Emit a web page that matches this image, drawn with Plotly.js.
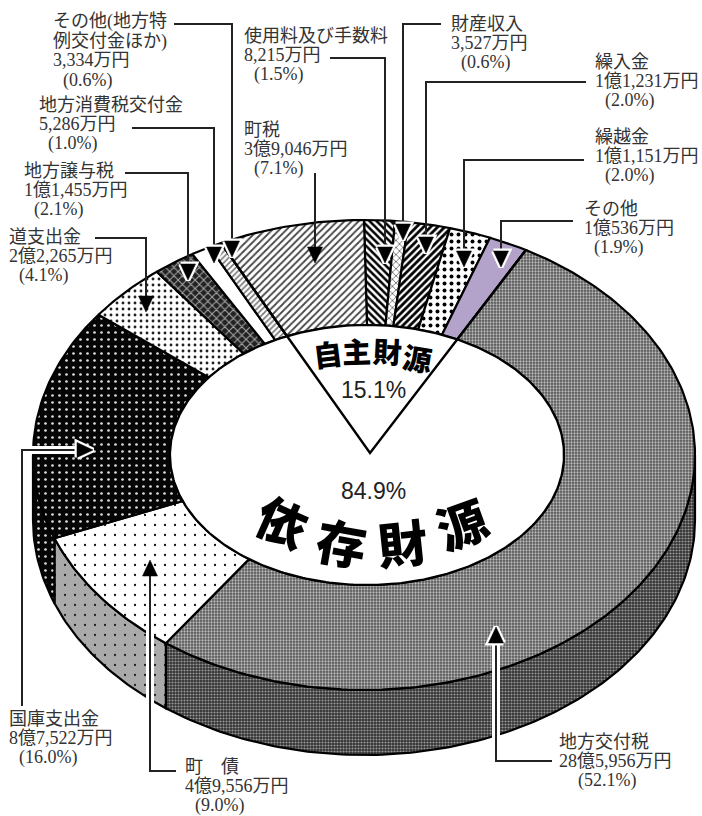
<!DOCTYPE html>
<html><head><meta charset="utf-8">
<script src="https://cdn.plot.ly/plotly-3.0.1.min.js"></script>
<style>html,body{margin:0;padding:0;background:#fff}</style>
</head><body><div id="chart" style="width:702px;height:816px"></div>
<script>
// ---- data (万円), clockwise from 12 o'clock ----
const categories = ['使用料及び手数料','財産収入','繰入金','繰越金','その他','地方交付税','町債','国庫支出金','道支出金','地方譲与税','地方消費税交付金','その他(地方特例交付金ほか)','町税'];
const values = [8215,3527,11231,11151,10536,285956,49556,87522,22265,11455,5286,3334,39046];
const amountLabels = ['8,215万円','3,527万円','1億1,231万円','1億1,151万円','1億536万円','28億5,956万円','4億9,556万円','8億7,522万円','2億2,265万円','1億1,455万円','5,286万円','3,334万円','3億9,046万円'];
const percentLabels = ['(1.5%)','(0.6%)','(2.0%)','(2.0%)','(1.9%)','(52.1%)','(9.0%)','(16.0%)','(4.1%)','(2.1%)','(1.0%)','(0.6%)','(7.1%)'];
const nameLines = [['使用料及び手数料'],['財産収入'],['繰入金'],['繰越金'],['その他'],['地方交付税'],['町\u3000債'],['国庫支出金'],['道支出金'],['地方譲与税'],['地方消費税交付金'],['その他(地方特','例交付金ほか)'],['町税']];
const ownShare = '15.1%', depShare = '84.9%';

// ---- presentation ----
const outer = {cx:364, cy:455, a:331, b:235}, hole = {cx:367, cy:455, a:197, b:130}, depth = 65;
const apex = [370,453];
const labelX = [[243,253],[450,460],[594,604],[594,604],[583,593],[558,577],[184,194],[8,18],[8,18],[23,33],[38,47],[52,62],[243,253]];
const labelY = [36,24,62,137,209,742,767,719,237,171,105,21.8,130];
const lineH = 18.7, pctShift = 1.2, twoLineGap = 1.2;
const pats = [
 {shape:'\\',bgcolor:'#fff',fgcolor:'#000',size:5,solidity:.5},
 {shape:'x',bgcolor:'#fff',fgcolor:'#444',size:5,solidity:.25},
 {shape:'/',bgcolor:'#fff',fgcolor:'#000',size:5,solidity:.55},
 {shape:'.',bgcolor:'#fff',fgcolor:'#000',size:7,solidity:.25},
 null,
 {shape:'.',bgcolor:'#555',fgcolor:'#bbb',size:3,solidity:.45},
 {shape:'.',bgcolor:'#fff',fgcolor:'#111',size:10,solidity:.04},
 {shape:'.',bgcolor:'#050505',fgcolor:'#ddd',size:7,solidity:.12},
 {shape:'.',bgcolor:'#fff',fgcolor:'#222',size:6,solidity:.18},
 {shape:'x',bgcolor:'#222',fgcolor:'#aaa',size:6,solidity:.3},
 {shape:'',bgcolor:'#fff',fgcolor:'#fff',size:6,solidity:.1},
 {shape:'/',bgcolor:'#fff',fgcolor:'#777',size:4,solidity:.4},
 {shape:'/',bgcolor:'#fff',fgcolor:'#444',size:5,solidity:.35}
];
const wallPats = {5:{shape:'.',bgcolor:'#333',fgcolor:'#999',size:3,solidity:.4},
                  6:{shape:'.',bgcolor:'#aaa',fgcolor:'#222',size:10,solidity:.04},
                  7:{shape:'.',bgcolor:'#050505',fgcolor:'#ddd',size:7,solidity:.12}};
const solidFill = '#b3a2c9';
// leader polylines: text end -> elbow -> arrow tip; halo = white-outlined
const leaders = [
 {p:[[330,58],[385,58],[385,263]],halo:true,shaft:false},
 {p:[[441,24],[403,24],[403,240]],halo:true,shaft:false},
 {p:[[586,82],[426,82],[426,253]],halo:true,shaft:false},
 {p:[[584,160],[464,160],[464,267]],halo:true,shaft:false},
 {p:[[573,221],[501,221],[501,267]],halo:true,shaft:false},
 {p:[[552,761],[496,761],[496,627]],halo:true,shaft:true},
 {p:[[176,771],[150,771],[150,560]],halo:false,shaft:true},
 {p:[[22,706],[22,450],[93,450]],halo:true,shaft:true},
 {p:[[95,238],[146,238],[146,312]],halo:false,shaft:false},
 {p:[[125,173],[188,173],[188,280]],halo:true,shaft:false},
 {p:[[132,128],[214,128],[214,263]],halo:true,shaft:false},
 {p:[[174,24],[232,24],[232,257]],halo:true,shaft:false},
 {p:[[315,173],[315,263]],halo:false,shaft:false}
];
const headLen = 16, headHalf = 7.5;
const bigText = [
 {t:'自',x:327,y:353,r:-7,s:29},{t:'主',x:356,y:350,r:-2,s:29},{t:'財',x:387,y:350,r:3,s:29},{t:'源',x:417,y:357,r:9,s:29},
 {t:'依',x:283,y:520,r:24,s:50},{t:'存',x:342,y:541,r:10,s:50},{t:'財',x:402,y:541,r:-6,s:50},{t:'源',x:461,y:522,r:-20,s:50}
];

// ---- geometry from values ----
const total = values.reduce((a,b)=>a+b,0);
const pt = (e,deg,dy=0)=>{const r=deg*Math.PI/180;return [e.cx+e.a*Math.sin(r), e.cy-e.b*Math.cos(r)+dy];};
function arc(e,a0,a1,dy=0){const n=Math.max(2,Math.ceil(Math.abs(a1-a0)));const o=[];for(let i=0;i<=n;i++)o.push(pt(e,a0+(a1-a0)*i/n,dy));return o;}
function poly(pts,extra){pts=pts.concat([pts[0]]);return Object.assign({type:'scatter',mode:'lines',x:pts.map(p=>p[0]),y:pts.map(p=>p[1]),fill:'toself',hoverinfo:'skip',showlegend:false,line:{color:'#000',width:2,simplify:false}},extra);}
const traces = [];
let cum = 0; const angles = values.map(v=>{const s=cum/total*360;cum+=v;return [s,cum/total*360];});
const ownStart = angles[4][1], ownEnd = angles[12][0];
// where an arm (apex -> outer boundary point) meets the hole ellipse, as a hole angle
function holeAngle(deg){
  const q=pt(outer,deg), dx=q[0]-apex[0], dy=q[1]-apex[1];
  const ox=(apex[0]-hole.cx)/hole.a, oy=(apex[1]-hole.cy)/hole.b, ux=dx/hole.a, uy=dy/hole.b;
  const A=ux*ux+uy*uy,B=2*(ox*ux+oy*uy),C=ox*ox+oy*oy-1;
  const k=(-B+Math.sqrt(B*B-4*A*C))/(2*A);
  const x=(apex[0]+k*dx-hole.cx)/hole.a, y=(apex[1]+k*dy-hole.cy)/hole.b;
  let t=Math.atan2(x,-y)*180/Math.PI; if(t<0)t+=360; return t;
}
const innerAngle = d => (Math.abs(d-ownStart)<1e-9||Math.abs(d-ownEnd)<1e-9)?holeAngle(d):d;

// walls
angles.forEach(([s,e],i)=>{
  const a0=Math.max(s,90), a1=Math.min(e,270);
  if(a1<=a0) return;
  const top=arc(outer,a0,a1), bot=arc(outer,a1,a0,depth);
  traces.push(poly(top.concat(bot),{name:categories[i]+' wall',fillpattern:wallPats[i],fillcolor:wallPats[i]?wallPats[i].bgcolor:'#888',line:{color:'#000',width:2.2}}));
});
// top faces
angles.forEach(([s,e],i)=>{
  const pts=arc(outer,s,e).concat(arc(hole,innerAngle(e),innerAngle(s)));
  const o={name:categories[i],line:{color:'#000',width:2.2}};
  if(pats[i]){o.fillpattern=pats[i];o.fillcolor=pats[i].bgcolor;} else o.fillcolor=solidFill;
  traces.push(poly(pts,o));
});
// hole
traces.push(poly(arc(hole,0,360),{name:'hole',fillcolor:'#fff',line:{color:'#000',width:2.2}}));
// 自主財源 wedge: arms from apex through the two boundary angles
const armR = pt(outer,ownStart), armL = pt(outer,ownEnd);
traces.push({type:'scatter',mode:'lines',x:[armL[0],apex[0],armR[0]],y:[armL[1],apex[1],armR[1]],line:{color:'#000',width:2.4},hoverinfo:'skip',showlegend:false});
// leader halos, shafts, heads
function shaftEnd(l){const n=l.p.length,a=l.p[n-2],b=l.p[n-1];const d=Math.hypot(b[0]-a[0],b[1]-a[1]);const u=[(b[0]-a[0])/d,(b[1]-a[1])/d];return {u,base:[b[0]-u[0]*headLen,b[1]-u[1]*headLen],tip:b};}
leaders.filter(l=>l.shaft).forEach(l=>{
  const se=shaftEnd(l);const p=l.p.slice(0,-1).concat([se.base]);
  const q=p.slice(-2);
  traces.push({type:'scatter',mode:'lines',x:q.map(a=>a[0]),y:q.map(a=>a[1]),line:{color:'#fff',width:8},hoverinfo:'skip',showlegend:false});
});
leaders.forEach(l=>{
  const se=shaftEnd(l);const p=l.p.slice(0,-1).concat([se.base]);
  traces.push({type:'scatter',mode:'lines',x:p.map(a=>a[0]),y:p.map(a=>a[1]),line:{color:'#222',width:2},hoverinfo:'skip',showlegend:false});
  const n=[-se.u[1],se.u[0]];
  const h=[[se.base[0]+n[0]*headHalf,se.base[1]+n[1]*headHalf],se.tip,[se.base[0]-n[0]*headHalf,se.base[1]-n[1]*headHalf]];
  if(l.halo) traces.push(poly(h,{fillcolor:'#fff',line:{color:'#fff',width:5}}));
  traces.push(poly(h,{fillcolor:'#000',line:{color:'#000',width:0.5}}));
});

// text
const ann=[];
const font={family:'Liberation Serif, Noto Sans CJK JP, serif',size:18,color:'#333'};
const add=(text,x,y,f,extra)=>ann.push(Object.assign({text,x,y,xref:'x',yref:'y',showarrow:false,xanchor:'left',yanchor:'middle',font:f,borderpad:0},extra||{}));
categories.forEach((c,i)=>{
  const lines=nameLines[i].concat([amountLabels[i],percentLabels[i]]);
  const gap=nameLines[i].length>1?twoLineGap:0;
  lines.forEach((t,k)=>{const last=k===lines.length-1;add(t,labelX[i][last?1:0],labelY[i]+k*lineH+(k>0?gap:0)+(last?pctShift:0),font);});
});
const sans={family:'Liberation Sans, Arial, sans-serif',size:23,color:'#222'};
add(ownShare,373,390,sans,{xanchor:'center'});
add(depShare,373,491,sans,{xanchor:'center'});
bigText.forEach(b=>add(b.t,b.x,b.y,{family:'Noto Sans CJK JP, sans-serif',size:b.s,color:'#000',weight:900},{xanchor:'center',textangle:b.r}));

Plotly.newPlot('chart',traces,{
  width:702,height:816,margin:{l:0,r:0,t:0,b:0},paper_bgcolor:'#fff',plot_bgcolor:'#fff',showlegend:false,
  xaxis:{range:[0,702],visible:false,fixedrange:true},
  yaxis:{range:[816,0],visible:false,fixedrange:true},
  annotations:ann
},{displayModeBar:false,staticPlot:true});
</script></body></html>
